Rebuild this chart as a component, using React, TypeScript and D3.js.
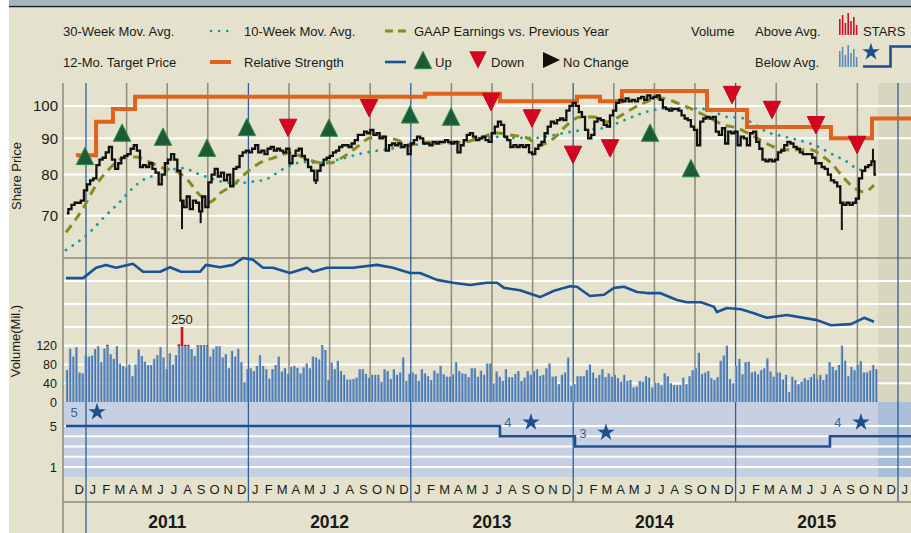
import React, { useEffect, useRef } from 'react';
import * as d3 from 'd3';

// decimal year of the first weekly bar (Nov 19, 2010) and end of actual data
const FIRST_WEEK = 2010.882;
const LAST_DATA = 2015.877;
const X_START = 2010.8584;
const X_END = 2016.08;

const weeklyClose = [
  70.5, 71.5, 72.5, 73, 73, 73.5, 76, 77.5, 78.5, 79,
  82.5, 84, 84.5, 86, 87.5, 84, 81.5, 83, 84.5, 85,
  85.5, 87, 88, 86.5, 82, 82.5, 82, 83, 81.5, 80.5,
  77.5, 80, 83, 84, 85.5, 84, 81, 73.5, 72, 74.5,
  71.5, 73.5, 73, 71, 74.5, 72, 78, 80, 81.5, 79.5,
  80.5, 78.5, 80, 77, 81.5, 82, 85, 86, 86.5, 86,
  87, 88, 86, 86.5, 85.5, 87, 87.5, 86.5, 87, 86.5,
  86, 87, 83, 85, 86.5, 87, 85, 84, 82, 81,
  78.5, 81, 82.5, 84, 84.5, 85, 86, 86.5, 87.5, 88,
  88, 87.5, 88.5, 89.5, 91, 91, 92, 91.5, 92.5, 91,
  91.5, 90, 90.5, 86.5, 88, 88.5, 88, 88.5, 87.5, 88,
  85.5, 88.5, 89.5, 90.5, 90, 88.5, 88.5, 88, 89, 88.5,
  89, 89, 89.5, 89, 88.5, 89, 86, 88, 89.5, 91,
  91.5, 90.5, 89.5, 90, 90.5, 89.5, 89, 91.5, 93.5, 95,
  94, 90.5, 89.5, 87.5, 88, 87.5, 88, 87.5, 88, 86,
  85.5, 87, 88, 89, 91.5, 93.5, 95, 94.5, 95.5, 96,
  95.5, 98.5, 100, 101, 100, 98, 96.5, 92.5, 90, 91,
  95, 96, 95.5, 94, 93.5, 97, 98.5, 101, 102, 101.5,
  102.5, 101.5, 102, 101.5, 102.5, 103, 102, 103.5, 102.5, 103,
  103.5, 102, 99.5, 99, 98.5, 99, 99, 98.5, 97, 96,
  95.5, 93.5, 92.5, 88, 95, 96, 96.5, 96, 96.5, 92,
  91, 93, 88.5, 92, 91.5, 92, 88, 90.5, 90, 88,
  91.5, 92, 89, 87, 84, 83.5, 84, 83.5, 84, 86,
  86.5, 88, 89, 88.5, 87.5, 87, 86, 85.5, 85.5, 85.5,
  84.5, 83, 83, 82, 81.5, 80, 78.5, 78, 77, 73,
  72.5, 73, 72.5, 73, 74, 79, 81, 82, 82.5, 83.5, 80,
];

// [week index, intraweek extreme]
const priceWicks: [number, number][] = [[37, 67], [43, 68.3], [80, 77.6], [249, 66.8], [259, 87]];

const weeklyVolume = [
  68, 114, 97, 117, 63, 61, 100, 97, 99, 113,
  119, 85, 114, 122, 102, 92, 119, 82, 77, 74,
  80, 55, 80, 112, 98, 86, 79, 79, 92, 100,
  117, 95, 70, 104, 80, 100, 123, 250, 122, 122,
  113, 98, 121, 121, 121, 121, 97, 113, 119, 119,
  95, 102, 72, 109, 97, 114, 85, 42, 70, 72,
  66, 77, 100, 77, 70, 50, 70, 79, 97, 65,
  72, 60, 75, 77, 73, 61, 74, 82, 72, 97,
  95, 91, 121, 111, 47, 84, 70, 88, 66, 58,
  48, 48, 49, 52, 70, 70, 60, 52, 58, 58,
  58, 43, 70, 66, 49, 70, 58, 63, 95, 45,
  60, 63, 59, 45, 70, 61, 55, 47, 67, 61,
  77, 59, 54, 54, 59, 85, 66, 61, 60, 53,
  72, 72, 54, 67, 58, 82, 82, 40, 65, 54,
  45, 70, 53, 53, 60, 66, 45, 52, 66, 58,
  66, 70, 56, 58, 72, 82, 54, 55, 38, 58,
  63, 95, 34, 38, 55, 55, 55, 68, 80, 63,
  51, 58, 70, 53, 61, 54, 58, 51, 43, 58,
  45, 47, 31, 33, 45, 43, 55, 52, 31, 41,
  41, 36, 61, 55, 40, 36, 36, 36, 52, 38,
  55, 68, 72, 105, 60, 63, 66, 51, 47, 53,
  88, 99, 120, 49, 40, 77, 92, 59, 85, 86,
  63, 65, 59, 68, 72, 93, 65, 54, 63, 63,
  48, 58, 21, 54, 47, 38, 43, 51, 47, 53,
  60, 49, 58, 47, 59, 85, 75, 68, 79, 120,
  88, 55, 75, 68, 79, 87, 63, 63, 67, 79, 70,
];

// [decimal year, price]
const ma30Week: [number, number][] = [
  [2010.877, 62.6], [2011.025, 66.4], [2011.105, 69.4], [2011.209, 73.2], [2011.289, 76.6],
  [2011.351, 78.6], [2011.431, 79.9], [2011.517, 81.2], [2011.597, 81.7], [2011.677, 80.4],
  [2011.764, 79.1], [2011.844, 78.1], [2011.924, 77.8], [2012.010, 78.1], [2012.108, 78.8],
  [2012.238, 82.0], [2012.336, 83.3], [2012.441, 83.1], [2012.546, 83.9], [2012.706, 85.8],
  [2012.829, 86.7], [2012.952, 87.5], [2013.075, 88.4], [2013.223, 88.6], [2013.365, 89.5],
  [2013.531, 90.4], [2013.654, 90.1], [2013.759, 90.1], [2013.882, 91.0], [2013.980, 91.9],
  [2014.067, 92.5], [2014.190, 93.1], [2014.288, 94.9], [2014.393, 97.1], [2014.498, 98.7],
  [2014.596, 99.3], [2014.700, 99.3], [2014.805, 99.0], [2014.885, 97.7], [2014.947, 96.5],
  [2015.033, 96.2], [2015.113, 94.3], [2015.193, 91.9], [2015.280, 90.7], [2015.360, 89.8],
  [2015.464, 88.4], [2015.526, 87.2], [2015.606, 85.2], [2015.686, 83.4], [2015.729, 82.0],
  [2015.791, 80.9],
];

const ma10Week: [number, number][] = [
  [2010.877, 66.3], [2010.982, 71.7], [2011.062, 77.3], [2011.148, 81.7], [2011.228, 84.4],
  [2011.308, 84.7], [2011.394, 83.3], [2011.474, 81.7], [2011.536, 81.2], [2011.616, 79.1],
  [2011.702, 74.8], [2011.764, 73.2], [2011.825, 75.3], [2011.905, 77.3], [2011.985, 80.4],
  [2012.071, 83.1], [2012.151, 84.4], [2012.256, 85.8], [2012.336, 84.7], [2012.422, 83.3],
  [2012.502, 83.1], [2012.583, 84.7], [2012.669, 87.5], [2012.749, 90.1], [2012.829, 90.4],
  [2012.915, 89.5], [2012.995, 88.1], [2013.075, 88.9], [2013.198, 88.9], [2013.321, 88.9],
  [2013.426, 90.1], [2013.531, 91.6], [2013.611, 91.0], [2013.716, 90.1], [2013.796, 88.1],
  [2013.882, 90.1], [2013.962, 94.0], [2014.042, 96.5], [2014.128, 96.5], [2014.208, 94.9],
  [2014.270, 96.2], [2014.350, 98.7], [2014.436, 101.0], [2014.534, 102.6], [2014.639, 101.0],
  [2014.700, 99.7], [2014.805, 97.1], [2014.929, 94.0], [2015.009, 93.1], [2015.095, 91.0],
  [2015.175, 88.9], [2015.236, 87.5], [2015.298, 86.7], [2015.360, 86.7], [2015.464, 86.7],
  [2015.526, 85.2], [2015.587, 83.1], [2015.667, 79.1], [2015.729, 76.6], [2015.791, 75.6],
  [2015.852, 77.3],
];

// relative strength index (arbitrary units)
const relStrength: [number, number][] = [
  [2010.877, 85], [2010.982, 85], [2011.062, 103], [2011.123, 108], [2011.185, 103],
  [2011.289, 110], [2011.351, 96], [2011.456, 96], [2011.517, 104], [2011.585, 96],
  [2011.702, 96], [2011.739, 108], [2011.825, 104], [2011.905, 108], [2011.967, 120],
  [2012.028, 117], [2012.090, 103], [2012.151, 103], [2012.256, 94], [2012.360, 103],
  [2012.397, 96], [2012.484, 103], [2012.644, 103], [2012.792, 108], [2012.890, 103],
  [2012.995, 94], [2013.057, 94], [2013.161, 82], [2013.260, 77], [2013.365, 73],
  [2013.469, 77], [2013.531, 77], [2013.574, 68], [2013.672, 64], [2013.796, 52],
  [2013.882, 63], [2013.980, 71], [2014.023, 70], [2014.103, 54], [2014.190, 56],
  [2014.251, 68], [2014.313, 70], [2014.393, 61], [2014.455, 59], [2014.534, 59],
  [2014.639, 47], [2014.700, 43], [2014.787, 43], [2014.867, 35], [2014.885, 26],
  [2014.947, 33], [2015.033, 31], [2015.113, 24], [2015.193, 16], [2015.316, 21],
  [2015.501, 12], [2015.587, 3], [2015.711, 5], [2015.791, 16], [2015.852, 9],
];

const targetPrice: [number, number][] = [
  [2010.938, 85.2], [2011.062, 95], [2011.166, 99], [2011.302, 103], [2013.087, 104],
  [2013.549, 101.5], [2014.023, 103], [2014.165, 101.5], [2014.300, 105], [2014.824, 98.7],
  [2015.070, 93.4], [2015.587, 90], [2015.840, 96], [2016.08, 96],
];

// GAAP earnings vs previous year: [decimal year, price level, direction]
const epsMarks: [number, number, string][] = [
  [2010.994, 85.0, 'up'], [2011.222, 91.7, 'up'], [2011.474, 90.5, 'up'], [2011.745, 87.3, 'up'],
  [2011.991, 93.4, 'up'], [2012.244, 93.1, 'down'], [2012.496, 93.2, 'up'], [2012.743, 99.3, 'down'],
  [2012.995, 97.3, 'up'], [2013.248, 96.6, 'up'], [2013.494, 101.3, 'down'], [2013.746, 96.0, 'down'],
  [2013.999, 85.3, 'down'], [2014.227, 87.1, 'down'], [2014.473, 91.7, 'up'], [2014.725, 81.7, 'up'],
  [2014.978, 103.6, 'down'], [2015.224, 98.7, 'down'], [2015.495, 93.9, 'down'], [2015.748, 88.1, 'down'],
];

const starsRating: [number, number][] = [
  [2010.877, 5], [2013.549, 4], [2014.011, 3], [2015.581, 4], [2016.08, 4],
];

const monthLetters = ['J', 'F', 'M', 'A', 'M', 'J', 'J', 'A', 'S', 'O', 'N', 'D'];
const years = [2011, 2012, 2013, 2014, 2015];
const priceTicks = [70, 80, 90, 100];
const volumeTicks = [0, 40, 80, 120];
const volumeGrid = [40, 80, 120, 160];
const rsGrid = [40, 80];
const starLevels = [1, 2, 3, 4, 5];
const starTicks = [1, 5];

const FONT = 'Arial, "Liberation Sans", sans-serif';
const GRAY = '#8b8a7b';
const BLUE = '#2b5f9e';

export default function App() {
  const svgRef = useRef<SVGSVGElement>(null);

  useEffect(() => {
    if (!svgRef.current) return;
    const svg = d3.select(svgRef.current);
    svg.selectAll('*').remove();

    const left = 63, right = 911;
    const x = d3.scaleLinear().domain([X_START, X_END]).range([left, right]);
    const yPrice = d3.scaleLog().domain([61, 106]).range([258, 88]);
    const yRS = d3.scaleLinear().domain([0, 120]).range([327, 258]);
    const yVol = d3.scaleLinear().domain([0, 160]).range([402, 327]).clamp(true);
    const yStars = d3.scaleLinear().domain([1, 5]).range([467, 426]);
    const weekT = (i: number) => FIRST_WEEK + (i * 7) / 365.25;
    const xLast = x(LAST_DATA);

    // backgrounds
    svg.append('rect').attr('width', 911).attr('height', 533).attr('fill', '#fff');
    svg.append('rect').attr('x', 9).attr('width', 902).attr('height', 533).attr('fill', '#e4e2cc');
    svg.append('rect').attr('x', 9).attr('width', 902).attr('height', 5.5).attr('fill', '#a4b6c1');
    svg.append('line').attr('x1', 9).attr('x2', 911).attr('y1', 6.5).attr('y2', 6.5)
      .attr('stroke', '#1c1c1c').attr('stroke-width', 1.5);
    svg.append('rect').attr('x', xLast).attr('y', 83).attr('width', right - xLast).attr('height', 319)
      .attr('fill', '#d9d6bf');
    svg.append('rect').attr('x', left).attr('y', 402).attr('width', right - left).attr('height', 75)
      .attr('fill', '#c6d0e2');
    svg.append('rect').attr('x', xLast).attr('y', 402).attr('width', right - xLast).attr('height', 75)
      .attr('fill', '#aac0d8');

    // horizontal gridlines
    const grid = svg.append('g').attr('stroke', '#fff').attr('stroke-width', 2);
    const hLine = (y: number) => grid.append('line').attr('x1', left).attr('x2', right).attr('y1', y).attr('y2', y);
    priceTicks.forEach(p => hLine(yPrice(p)));
    rsGrid.forEach(v => hLine(yRS(v)));
    volumeGrid.forEach(v => hLine(yVol(v)));
    starLevels.forEach(v => hLine(yStars(v)));

    svg.append('line').attr('x1', left).attr('x2', right).attr('y1', 258).attr('y2', 258)
      .attr('stroke', GRAY).attr('stroke-width', 1.5);

    // quarter and year lines
    years.concat([2016]).forEach(yr => {
      [0.25, 0.5, 0.75].forEach(q => {
        if (yr + q > X_END) return;
        svg.append('line').attr('x1', x(yr + q)).attr('x2', x(yr + q)).attr('y1', 83).attr('y2', 402)
          .attr('stroke', GRAY).attr('stroke-width', 1.5);
      });
    });
    years.concat([2016]).forEach(yr => {
      svg.append('line').attr('x1', x(yr)).attr('x2', x(yr)).attr('y1', 83).attr('y2', yr === 2011 ? 533 : 502)
        .attr('stroke', BLUE).attr('stroke-width', 1.3);
    });
    svg.append('line').attr('x1', left).attr('x2', left).attr('y1', 83).attr('y2', 533)
      .attr('stroke', GRAY).attr('stroke-width', 1.5);
    svg.append('line').attr('x1', left).attr('x2', right).attr('y1', 502).attr('y2', 502)
      .attr('stroke', GRAY).attr('stroke-width', 1.5);

    // volume bars
    const defs = svg.append('defs');
    const grad = defs.append('linearGradient').attr('id', 'volGrad').attr('x1', 0).attr('x2', 1);
    grad.append('stop').attr('offset', '0%').attr('stop-color', '#a9bfd8');
    grad.append('stop').attr('offset', '45%').attr('stop-color', '#5d89bd');
    grad.append('stop').attr('offset', '100%').attr('stop-color', '#3b68a3');
    const AVG_CAP = 119;
    const vol = svg.append('g');
    weeklyVolume.forEach((v, i) => {
      const cx = x(weekT(i));
      const blueTop = yVol(Math.min(v, AVG_CAP));
      vol.append('rect').attr('x', cx - 1.3).attr('width', 2.6).attr('y', blueTop)
        .attr('height', yVol(0) - blueTop).attr('fill', 'url(#volGrad)');
      if (v > AVG_CAP) {
        vol.append('rect').attr('x', cx - 1.3).attr('width', 2.6).attr('y', yVol(v))
          .attr('height', blueTop - yVol(v)).attr('fill', '#d0102a');
      }
      if (v > yVol.domain()[1]) {
        vol.append('text').attr('x', cx).attr('y', yVol(v) - 3).attr('text-anchor', 'middle')
          .attr('font-size', 13).attr('font-family', FONT).attr('fill', '#1a1a1a').text(String(v));
      }
    });

    // relative strength
    svg.append('path').datum(relStrength)
      .attr('d', d3.line<[number, number]>().x(d => x(d[0])).y(d => yRS(d[1])))
      .attr('fill', 'none').attr('stroke', '#1a5296').attr('stroke-width', 2.6).attr('stroke-linejoin', 'round');

    // moving averages
    svg.append('path').datum(ma30Week)
      .attr('d', d3.line<[number, number]>().x(d => x(d[0])).y(d => yPrice(d[1])).curve(d3.curveMonotoneX))
      .attr('fill', 'none').attr('stroke', '#1c9a9a').attr('stroke-width', 2.8)
      .attr('stroke-dasharray', '0.1 8').attr('stroke-linecap', 'round');
    svg.append('path').datum(ma10Week)
      .attr('d', d3.line<[number, number]>().x(d => x(d[0])).y(d => yPrice(d[1])).curve(d3.curveMonotoneX))
      .attr('fill', 'none').attr('stroke', '#8a8a22').attr('stroke-width', 3)
      .attr('stroke-dasharray', '9 6');

    // target price
    svg.append('path').datum(targetPrice)
      .attr('d', d3.line<[number, number]>().x(d => x(d[0])).y(d => yPrice(d[1])).curve(d3.curveStepAfter))
      .attr('fill', 'none').attr('stroke', '#e0621c').attr('stroke-width', 4);

    // share price
    svg.append('path').datum(weeklyClose)
      .attr('d', d3.line<number>().x((d, i) => x(weekT(i))).y(d => yPrice(d)).curve(d3.curveStep))
      .attr('fill', 'none').attr('stroke', '#111').attr('stroke-width', 2.3);
    priceWicks.forEach(([i, p]) => {
      svg.append('line').attr('x1', x(weekT(i))).attr('x2', x(weekT(i)))
        .attr('y1', yPrice(weeklyClose[i])).attr('y2', yPrice(p))
        .attr('stroke', '#111').attr('stroke-width', 2);
    });

    // EPS triangles
    const tri = (cx: number, cy: number, dir: string, s = 8.7) =>
      dir === 'up'
        ? `M${cx},${cy - s}L${cx + s},${cy + s}L${cx - s},${cy + s}Z`
        : `M${cx - s},${cy - s}L${cx + s},${cy - s}L${cx},${cy + s}Z`;
    epsMarks.forEach(([t, p, dir]) => {
      svg.append('path').attr('d', tri(x(t), yPrice(p), dir))
        .attr('fill', dir === 'up' ? '#1c5a3a' : '#d2061f')
        .attr('stroke', dir === 'up' ? '#2f8e3b' : '#c4051c').attr('stroke-width', 1);
    });

    // STARS
    svg.append('path').datum(starsRating)
      .attr('d', d3.line<[number, number]>().x(d => x(d[0])).y(d => yStars(d[1])).curve(d3.curveStepAfter))
      .attr('fill', 'none').attr('stroke', '#1d4f8f').attr('stroke-width', 2.6);
    const star = d3.symbol().type(d3.symbolStar).size(95);
    starsRating.slice(0, -1).forEach(([t, s]) => {
      const x0 = x(t);
      svg.append('text').attr('x', x0 + 8).attr('y', yStars(s) - 9).attr('text-anchor', 'middle')
        .attr('font-size', 13).attr('font-family', FONT).attr('fill', '#3a64a0').text(String(s));
      svg.append('path').attr('d', star()).attr('transform', `translate(${x0 + 31},${yStars(s) - 14})`)
        .attr('fill', '#1d4f8f');
    });

    // axis labels
    const txt = svg.append('g').attr('font-family', FONT).attr('fill', '#1a1a1a');
    priceTicks.forEach(p => {
      txt.append('text').attr('x', 58).attr('y', yPrice(p)).attr('dy', '0.36em').attr('text-anchor', 'end')
        .attr('font-size', 15).text(String(p));
    });
    volumeTicks.forEach(v => {
      txt.append('text').attr('x', 57).attr('y', yVol(v)).attr('dy', '0.36em').attr('text-anchor', 'end')
        .attr('font-size', 12.5).text(String(v));
    });
    starTicks.forEach(s => {
      txt.append('text').attr('x', 57).attr('y', yStars(s)).attr('dy', '0.36em').attr('text-anchor', 'end')
        .attr('font-size', 13).text(String(s));
    });
    txt.append('text').attr('transform', 'translate(21,176) rotate(-90)').attr('text-anchor', 'middle')
      .attr('font-size', 13).text('Share Price');
    txt.append('text').attr('transform', 'translate(20,341) rotate(-90)').attr('text-anchor', 'middle')
      .attr('font-size', 13).text('Volume(Mil.)');

    // month letters and years
    for (let yr = 2010; yr <= 2016; yr++) {
      monthLetters.forEach((m, mi) => {
        const t = yr + (mi + 0.5) / 12;
        if (x(t) < left + 8 || x(t) > right - 4) return;
        txt.append('text').attr('x', x(t)).attr('y', 494).attr('text-anchor', 'middle')
          .attr('font-size', 13).text(m);
      });
    }
    years.forEach(yr => {
      txt.append('text').attr('x', x(yr + 0.5)).attr('y', 528).attr('text-anchor', 'middle')
        .attr('font-size', 17.5).attr('font-weight', 'bold').text(String(yr));
    });

    // legend
    const lg = svg.append('g').attr('font-family', FONT).attr('font-size', 13).attr('fill', '#1a1a1a');
    const row1 = 36, row2 = 67;
    lg.append('text').attr('x', 63).attr('y', row1).text('30-Week Mov. Avg.');
    lg.append('line').attr('x1', 211).attr('x2', 229).attr('y1', 31).attr('y2', 31)
      .attr('stroke', '#1c9a9a').attr('stroke-width', 2.6).attr('stroke-dasharray', '0.1 8').attr('stroke-linecap', 'round');
    lg.append('text').attr('x', 244).attr('y', row1).text('10-Week Mov. Avg.');
    lg.append('line').attr('x1', 385).attr('x2', 408).attr('y1', 31).attr('y2', 31)
      .attr('stroke', '#8a8a22').attr('stroke-width', 3).attr('stroke-dasharray', '8 5');
    lg.append('text').attr('x', 414).attr('y', row1).text('GAAP Earnings vs. Previous Year');
    lg.append('text').attr('x', 691).attr('y', row1).text('Volume');
    lg.append('text').attr('x', 755).attr('y', row1).text('Above Avg.');
    lg.append('text').attr('x', 863).attr('y', row1).text('STARS');

    lg.append('text').attr('x', 63).attr('y', row2).text('12-Mo. Target Price');
    lg.append('line').attr('x1', 210).attr('x2', 231).attr('y1', 62).attr('y2', 62)
      .attr('stroke', '#e0621c').attr('stroke-width', 4);
    lg.append('text').attr('x', 244).attr('y', row2).text('Relative Strength');
    lg.append('line').attr('x1', 385).attr('x2', 406).attr('y1', 62).attr('y2', 62)
      .attr('stroke', '#1a5296').attr('stroke-width', 2.6);
    lg.append('path').attr('d', tri(423, 60, 'up')).attr('fill', '#1c5a3a').attr('stroke', '#2f8e3b');
    lg.append('text').attr('x', 435).attr('y', row2).text('Up');
    lg.append('path').attr('d', tri(478, 60, 'down')).attr('fill', '#d2061f');
    lg.append('text').attr('x', 491).attr('y', row2).text('Down');
    lg.append('path').attr('d', 'M543,52L560,60L543,68Z').attr('fill', '#111');
    lg.append('text').attr('x', 563).attr('y', row2).text('No Change');
    lg.append('text').attr('x', 755).attr('y', row2).text('Below Avg.');

    // little volume icons
    const iconBars = [16, 20, 12, 22, 14, 18, 10];
    iconBars.forEach((h, i) => {
      lg.append('rect').attr('x', 839 + i * 2.8).attr('y', 35 - h).attr('width', 1.6).attr('height', h).attr('fill', '#d0102a');
      lg.append('rect').attr('x', 839 + i * 2.8).attr('y', 67 - h).attr('width', 1.6).attr('height', h).attr('fill', '#5d89bd');
    });
    lg.append('path').attr('d', star()).attr('transform', 'translate(871,52)').attr('fill', '#1d4f8f');
    lg.append('path').attr('d', 'M863,66.5H890.5V46.5H911').attr('fill', 'none')
      .attr('stroke', '#1d4f8f').attr('stroke-width', 2.6);
  }, []);

  return (
    <svg
      ref={svgRef}
      width={911}
      height={533}
      style={{ position: 'absolute', left: 0, top: 0 }}
    />
  );
}
